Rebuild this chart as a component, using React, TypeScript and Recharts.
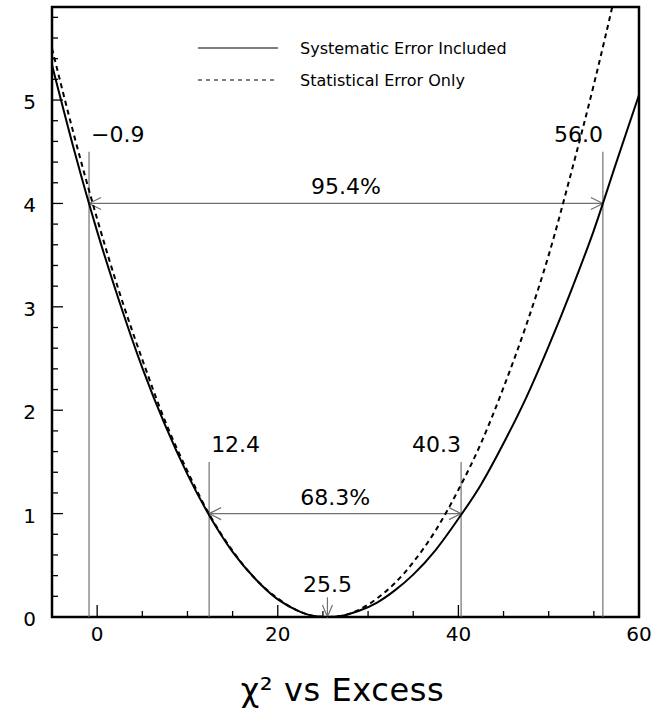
import React from "react";
import { ComposedChart, Line, XAxis, YAxis, ReferenceArea, ReferenceLine, Legend } from "recharts";

const FONT = "DejaVu Sans";
const GRAY = "#707070";

// chi2 curve
const excess = [-5, -2.5, 0, 2.5, 5, 7.5, 10, 12.5, 15, 17.5, 20, 22.5, 24, 25.5, 27, 29, 31, 33, 35, 37.5, 40, 42.5, 45, 47.5, 50, 52.5, 55, 57.5, 60];
const chi2Syst = [5.34, 4.5, 3.73, 3.04, 2.41, 1.86, 1.38, 0.97, 0.63, 0.37, 0.17, 0.05, 0.01, 0, 0.01, 0.06, 0.14, 0.26, 0.41, 0.65, 0.95, 1.28, 1.68, 2.12, 2.62, 3.16, 3.74, 4.4, 5.05];
const chi2Stat = [5.5, 4.64, 3.85, 3.13, 2.49, 1.9, 1.41, 0.98, 0.64, 0.37, 0.18, 0.05, 0.01, 0, 0.01, 0.07, 0.18, 0.33, 0.53, 0.84, 1.23, 1.68, 2.22, 2.82, 3.5, 4.3, 5.15, 6.08, 7.1];

const xTicks = [0, 5, 10, 15, 20, 25, 30, 35, 40, 45, 50, 55, 60];
const xTickLabels = [0, 20, 40, 60];
const yTicks = [0, 0.2, 0.4, 0.6, 0.8, 1, 1.2, 1.4, 1.6, 1.8, 2, 2.2, 2.4, 2.6, 2.8, 3, 3.2, 3.4, 3.6, 3.8, 4, 4.2, 4.4, 4.6, 4.8, 5, 5.2, 5.4, 5.6, 5.8];
const yTickLabels = [0, 1, 2, 3, 4, 5];

const legendOrder = ["syst", "stat"];

// interval bounds: value, height of marker line, label
const bounds = [-0.9, 12.4, 40.3, 56.0];
const boundTops = [4.5, 1.5, 1.5, 4.5];
const boundLabels = ["\u22120.9", "12.4", "40.3", "56.0"];
const spans = [
  { lo: -0.9, hi: 56.0, level: 4, label: "95.4%" },
  { lo: 12.4, hi: 40.3, level: 1, label: "68.3%" },
];
const bestFit = 25.5;

const data = excess.map((x, i) => ({ x, syst: chi2Syst[i], stat: chi2Stat[i] }));

// axis is 1px thick (height/width), so the plot edge sits at y-1 / x+1
function XTick(props: any) {
  const { x, payload } = props;
  const y = props.y - 1;
  const major = xTickLabels.includes(payload.value);
  return (
    <g>
      <line x1={x} x2={x} y1={y} y2={y - (major ? 11 : 5)} stroke="#000" strokeWidth={1.3} />
      {major && (
        <text x={x} y={y + 25} textAnchor="middle" fontFamily={FONT} fontSize={20} fill="#000">
          {payload.value}
        </text>
      )}
    </g>
  );
}

function YTick(props: any) {
  const { y, payload } = props;
  const x = props.x + 1;
  const major = yTickLabels.includes(payload.value);
  return (
    <g>
      <line x1={x} x2={x + (major ? 10 : 5)} y1={y} y2={y} stroke="#000" strokeWidth={1.3} />
      {major && (
        <text x={x - 17} y={y + 9} textAnchor="end" fontFamily={FONT} fontSize={20} fill="#000">
          {payload.value}
        </text>
      )}
    </g>
  );
}

const markerShape = (label: string, anchor: "start" | "end") => (p: any) => (
  <g>
    <line x1={p.x1} y1={p.y1} x2={p.x2} y2={p.y2} stroke={GRAY} strokeWidth={1.2} />
    <text x={anchor === "start" ? p.x1 + 2 : p.x1} y={Math.min(p.y1, p.y2) - 10} textAnchor={anchor} fontFamily={FONT} fontSize={22} fill="#000">
      {label}
    </text>
  </g>
);

const spanShape = (label: string) => (p: any) => {
  const a = Math.min(p.x1, p.x2);
  const b = Math.max(p.x1, p.x2);
  const y = p.y1;
  return (
    <g>
      <line x1={a} y1={y} x2={b} y2={y} stroke={GRAY} strokeWidth={1.2} />
      <path d={`M${a + 12},${y - 6} L${a},${y} L${a + 12},${y + 6} M${b - 12},${y - 6} L${b},${y} L${b - 12},${y + 6}`} fill="none" stroke={GRAY} strokeWidth={1.2} />
      <text x={(a + b) / 2} y={y - 9} textAnchor="middle" fontFamily={FONT} fontSize={22} fill="#000">
        {label}
      </text>
    </g>
  );
};

const bestShape = (label: string) => (p: any) => {
  const top = Math.min(p.y1, p.y2);
  const bot = Math.max(p.y1, p.y2);
  const x = p.x1;
  return (
    <g>
      <line x1={x} y1={top} x2={x} y2={bot} stroke={GRAY} strokeWidth={1.2} />
      <path d={`M${x - 5},${bot - 12} L${x},${bot} L${x + 5},${bot - 12}`} fill="none" stroke={GRAY} strokeWidth={1.2} />
      <text x={x} y={top - 5} textAnchor="middle" fontFamily={FONT} fontSize={22} fill="#000">
        {label}
      </text>
    </g>
  );
};

const renderLegend = (props: any) => {
  const items = [...(props.payload || [])].sort(
    (a: any, b: any) => legendOrder.indexOf(a.dataKey) - legendOrder.indexOf(b.dataKey)
  );
  return (
    <div style={{ fontFamily: FONT, fontSize: 16, color: "#000" }}>
      {items.map((item: any) => (
        <div key={item.value} style={{ display: "flex", alignItems: "center", height: 32 }}>
          <svg width={80} height={4}>
            <line x1={0} x2={80} y1={2} y2={2} stroke="#000" strokeWidth={1.2} strokeDasharray={item.dataKey === "stat" ? "4 4" : undefined} />
          </svg>
          <span style={{ marginLeft: 22 }}>{item.value}</span>
        </div>
      ))}
    </div>
  );
};

const renderTitle = (props: any) => {
  const vb = props.viewBox;
  return (
    <text x={vb.x + vb.width / 2 - 3} y={vb.y + 84} textAnchor="middle" fontFamily={FONT} fontSize={32} letterSpacing={0.6} fill="#000">
      χ² vs Excess
    </text>
  );
};

export default function App() {
  return (
    <div style={{ position: "absolute", left: 0, top: 0, width: 662, height: 715, background: "#fff" }}>
      <ComposedChart width={662} height={715} data={data} margin={{ top: 7, right: 23, bottom: 97, left: 51 }}>
        <XAxis
          type="number"
          dataKey="x"
          domain={[-5, 60]}
          ticks={xTicks}
          interval={0}
          height={1}
          tickSize={0}
          tickMargin={0}
          axisLine={false}
          tickLine={false}
          tick={<XTick />}
          allowDataOverflow
          label={{ content: renderTitle }}
        />
        <YAxis
          type="number"
          domain={[0, 5.9]}
          ticks={yTicks}
          interval={0}
          width={1}
          tickSize={0}
          tickMargin={0}
          axisLine={false}
          tickLine={false}
          tick={<YTick />}
          allowDataOverflow
        />
        <Legend
          content={renderLegend}
          layout="vertical"
          align="center"
          verticalAlign="middle"
          wrapperStyle={{ left: 198, top: 32, width: 340 }}
        />
        {bounds.map((b, i) => (
          <ReferenceLine
            key={"b" + i}
            segment={[{ x: b, y: 0 }, { x: b, y: boundTops[i] }]}
            shape={markerShape(boundLabels[i], b < bestFit ? "start" : "end")}
          />
        ))}
        {spans.map((s) => (
          <ReferenceLine key={s.label} segment={[{ x: s.lo, y: s.level }, { x: s.hi, y: s.level }]} shape={spanShape(s.label)} />
        ))}
        <ReferenceLine segment={[{ x: bestFit, y: 0.19 }, { x: bestFit, y: 0 }]} shape={bestShape(bestFit.toFixed(1))} />
        <Line type="monotone" dataKey="syst" name="Systematic Error Included" stroke="#000" strokeWidth={2} dot={false} activeDot={false} isAnimationActive={false} />
        <Line type="monotone" dataKey="stat" name="Statistical Error Only" stroke="#000" strokeWidth={2} strokeDasharray="5 4" dot={false} activeDot={false} isAnimationActive={false} />
        <ReferenceArea x1={-5} x2={60} y1={0} y2={5.9} fill="none" fillOpacity={0} stroke="#000" strokeWidth={2.5} />
      </ComposedChart>
    </div>
  );
}
